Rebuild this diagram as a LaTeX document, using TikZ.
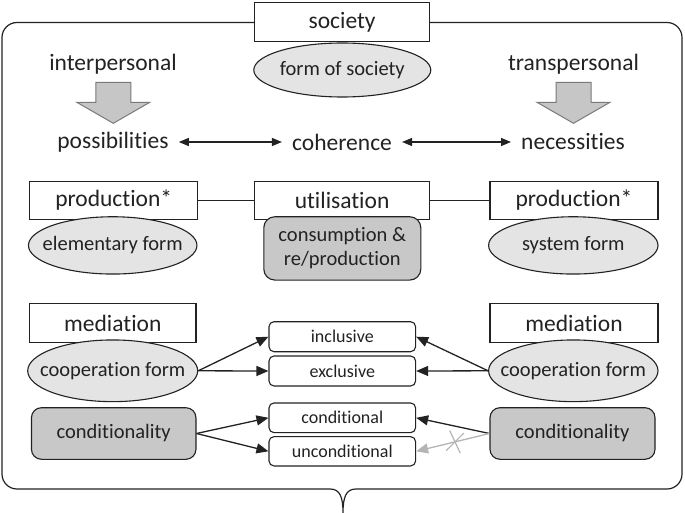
\documentclass[tikz,border=0pt]{standalone}
\usepackage{fontspec}
\setmainfont[Ligatures={NoCommon,NoRequired,NoContextual}]{Carlito}
\usetikzlibrary{shapes.geometric,shapes.misc,arrows.meta}
\definecolor{ink}{HTML}{222222}
\definecolor{lightfill}{HTML}{E4E4E4}
\definecolor{darkfill}{HTML}{C8C8C8}
\definecolor{arrowfill}{HTML}{C6C6C6}
\definecolor{arrowline}{HTML}{7A7A7A}
\definecolor{crossed}{HTML}{B4B4B4}
\newcommand{\ztext}[1]{\makebox[0pt]{#1}}
\tikzset{
  big/.style={font=\fontsize{23.5}{27}\selectfont},
  mid/.style={font=\fontsize{20.5}{24}\selectfont},
  small/.style={font=\fontsize{18}{21}\selectfont},
  labelbox/.style={draw=ink, line width=1.1pt, fill=white, inner sep=0pt, text=ink, big},
  formell/.style={ellipse, draw=ink, line width=1.1pt, fill=lightfill, inner sep=0pt, text=ink, mid},
  greybox/.style={rounded corners=11pt, draw=ink, line width=1.1pt, fill=darkfill, inner sep=0pt, text=ink, mid, align=center},
  typebox/.style={rounded corners=5pt, draw=ink, line width=1.1pt, fill=white, inner sep=0pt, minimum width=146.6pt, text=ink, small},
  plain/.style={text=ink, big, inner sep=10pt},
  conn/.style={draw=ink, line width=1.3pt},
  arr/.style={conn, -{Triangle[length=12pt,width=10pt]}},
  darr/.style={conn, {Triangle[length=10pt,width=8pt]}-{Triangle[length=10pt,width=8pt]}},
  blockarrow/.style={fill=arrowfill, draw=arrowline, line width=1pt, line join=miter},
}
\begin{document}
\begin{tikzpicture}[x=1pt,y=-1pt]
\useasboundingbox (0,0) rectangle (685,513);
% outer brace frame
\draw[ink, line width=1.2pt] (343,513) .. controls (343,497) and (340,489) .. (330,489)
  [rounded corners=15pt] -- (2,489) -- (2,22.5) -- (682,22.5) -- (682,489) [sharp corners] -- (356,489)
  .. controls (346,489) and (343,497) .. (343,513);

% top
\node[labelbox, minimum width=175pt, minimum height=38.5pt] (society) at (342.1,22) {society};
\node[formell, minimum width=177pt, minimum height=54pt] (formsoc) at (342.3,70) {\ztext{form of society}};
\node[plain] (inter) at (113,64) {interpersonal};
\node[plain] (trans) at (573.5,64) {transpersonal};

% block arrows
\foreach \cx/\nm in {113.3/arrL, 573.5/arrR}{
  \coordinate (\nm) at (\cx,82.3);
  \draw[blockarrow] (\cx-17.5,82.3) -- (\cx+17.5,82.3) -- (\cx+17.5,102.3) -- (\cx+36.5,102.3)
    -- (\cx,123.3) -- (\cx-36.5,102.3) -- (\cx-17.5,102.3) -- cycle;
}

% middle row
\node[plain] (poss) at (113,142) {possibilities};
\node[plain] (coh) at (342,142) {coherence};
\node[plain] (nec) at (573,142) {necessities};
\draw[darr] (poss.east) -- (coh.west);
\draw[darr] (coh.east) -- (nec.west);

% production row
\node[labelbox, minimum width=168pt, minimum height=37.6pt] (prodL) at (113.7,200.5) {production*};
\node[labelbox, minimum width=175pt, minimum height=37.6pt] (util) at (342.1,200.5) {utilisation};
\node[labelbox, minimum width=168pt, minimum height=37.6pt] (prodR) at (574,200.5) {production*};
\draw[conn] (prodL.east) -- (util.west);
\draw[conn] (util.east) -- (prodR.west);
\node[formell, minimum width=168.5pt, minimum height=57.3pt] (elem) at (112.7,245.4) {\ztext{elementary form}};
\node[formell, minimum width=169.4pt, minimum height=57.3pt] (sys) at (573.3,245.4) {\ztext{system form}};
\node[greybox, minimum width=157pt, minimum height=63.3pt] (cons) at (342.3,248.4) {consumption \&\\re/production};

% mediation
\node[labelbox, minimum width=166.3pt, minimum height=39.4pt] (medL) at (112.8,323) {mediation};
\node[labelbox, minimum width=168pt, minimum height=39.4pt] (medR) at (574,323) {mediation};
\node[formell, minimum width=170pt, minimum height=61.7pt] (coopL) at (112.7,370.8) {\ztext{cooperation form}};
\node[formell, minimum width=169.4pt, minimum height=61.7pt] (coopR) at (573.3,370.8) {\ztext{cooperation form}};

\node[typebox, minimum height=30pt] (incl) at (342.3,336.7) {inclusive};
\node[typebox, minimum height=30pt] (excl) at (342.3,371) {exclusive};
\node[typebox, minimum height=29.7pt] (cond) at (342.3,417.8) {conditional};
\node[typebox, minimum height=29.3pt] (uncond) at (342.3,451.3) {unconditional};

\node[greybox, rounded corners=10pt, minimum width=164.5pt, minimum height=51.6pt] (condlL) at (113.7,433.5) {conditionality};
\node[greybox, rounded corners=10pt, minimum width=165pt, minimum height=51.6pt] (condlR) at (572.5,433.5) {conditionality};

% connectors
\draw[arr] (coopL.east) -- (incl.west);
\draw[arr] (coopL.east) -- (excl.west);
\draw[arr] (coopR.west) -- (incl.east);
\draw[arr] (coopR.west) -- (excl.east);
\draw[arr] (condlL.east) -- (cond.west);
\draw[arr] (condlL.east) -- (uncond.west);
\draw[arr] (condlR.west) -- (cond.east);
\draw[draw=crossed, line width=1.3pt, -{Triangle[length=12pt,width=10pt]}] (condlR.west) -- (uncond.east)
  node[pos=0.47, cross out, draw=crossed, line width=1.2pt, minimum width=13pt, minimum height=19pt, inner sep=0pt, rotate=-10] (xmark) {};
\end{tikzpicture}
\end{document}
